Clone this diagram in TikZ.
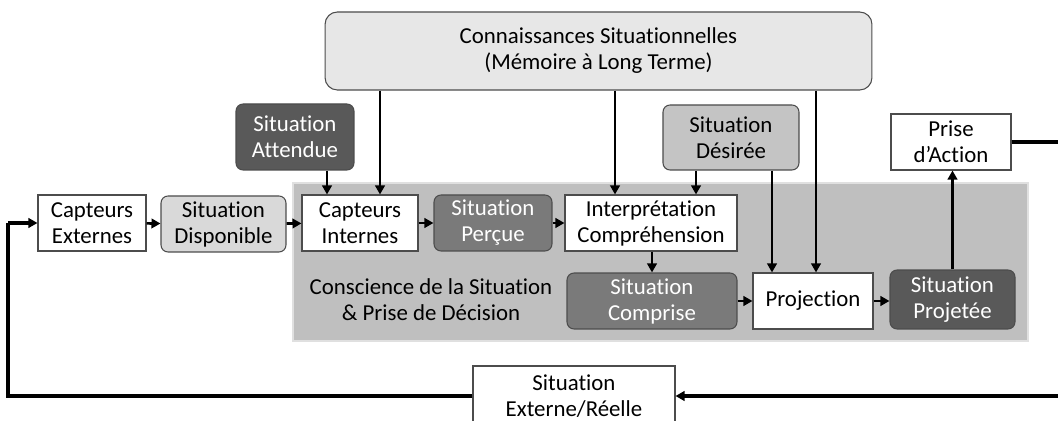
\documentclass[tikz,border=0pt]{standalone}
\usepackage{fontspec}
\setmainfont[RawFeature={-liga;-clig;-calt;-dlig}]{Carlito}
\usetikzlibrary{arrows.meta}
\definecolor{zone}{HTML}{BFBFBF}
\definecolor{tresclair}{HTML}{E7E7E7}
\definecolor{clair}{HTML}{D9D9D9}
\definecolor{mi}{HTML}{C4C4C4}
\definecolor{moyen}{HTML}{7A7A7A}
\definecolor{fonce}{HTML}{595959}

\begin{document}
\begin{tikzpicture}[x=0.02cm,y=-0.02cm,
  box/.style={draw=black!70,line width=0.6pt,align=center,inner sep=0pt,
    minimum height=1.12cm,font=\fontsize{13}{14.8}\selectfont},
  blanc/.style={box,fill=white},
  grisclair/.style={box,fill=clair,rounded corners=4pt},
  grismoyen/.style={box,fill=moyen,text=white,rounded corners=4pt},
  grisfonce/.style={box,fill=fonce,text=white,rounded corners=4pt},
  fl/.style={line width=1.5pt,-{Triangle[length=1.8mm,width=1.9mm]}},
  boucle/.style={line width=1.8pt}]
  \useasboundingbox (0,0) rectangle (1058,421);
  \clip (0,0) rectangle (1058,421);

  \draw[draw=black!12,fill=zone,line width=0.8pt] (293,183) rectangle (1028,341);

  \node[box,fill=tresclair,rounded corners=7pt,minimum width=10.94cm,minimum height=1.56cm] (cs) at (598.5,51)
    {Connaissances Situationnelles\\(Mémoire à Long Terme)};
  \node[grisfonce,minimum width=2.36cm,minimum height=1.32cm] (sa) at (295,137) {Situation\\Attendue};
  \node[grisclair,fill=mi,minimum width=2.72cm,minimum height=1.3cm] (sdes) at (731,137.5) {Situation\\Désirée};
  \node[blanc,minimum width=2.4cm] (pa) at (951,142) {Prise\\d’Action};

  \node[blanc,minimum width=2.16cm] (ce) at (92,223) {Capteurs\\Externes};
  \node[grisclair,minimum width=2.5cm] (sd) at (223.5,224) {Situation\\Disponible};
  \node[blanc,minimum width=2.32cm] (ci) at (360,223) {Capteurs\\Internes};
  \node[grismoyen,minimum width=2.36cm] (sp) at (493,223) {Situation\\Perçue};
  \node[blanc,minimum width=3.44cm] (ic) at (651,223) {Interprétation\\Compréhension};

  \node[align=center,font=\fontsize{13}{14.8}\selectfont] (csd) at (431,300)
    {Conscience de la Situation\\\& Prise de Décision};
  \node[grismoyen,minimum width=3.4cm] (sc) at (652,301) {Situation\\Comprise};
  \node[blanc,minimum width=2.4cm] (pj) at (813,301) {Projection};
  \node[grisfonce,minimum width=2.5cm,minimum height=1.18cm] (spj) at (952.5,299.5) {Situation\\Projetée};

  \node[blanc,minimum width=4.04cm,minimum height=1.2cm] (ser) at (574,396) {Situation\\Externe/Réelle};

  \coordinate (xa) at (327,0);
  \coordinate (xb) at (380,0);
  \coordinate (xc) at (615,0);
  \coordinate (xd) at (696,0);
  \coordinate (xe) at (772,0);
  \coordinate (xf) at (816,0);
  \coordinate (xg) at (1075,0);
  \coordinate (xh) at (8,0);

  \draw[fl] (sa.south -| xa) -- (ci.north -| xa);
  \draw[fl] (cs.south -| xb) -- (ci.north -| xb);
  \draw[fl] (cs.south -| xc) -- (ic.north -| xc);
  \draw[fl] (sdes.south -| xd) -- (ic.north -| xd);
  \draw[fl] (sdes.south -| xe) -- (pj.north -| xe);
  \draw[fl] (cs.south -| xf) -- (pj.north -| xf);

  \draw[fl] (ce) -- (sd);
  \draw[fl] (sd) -- (ci);
  \draw[fl] (ci) -- (sp);
  \draw[fl] (sp) -- (ic);
  \draw[fl] (ic.south -| sc.north) -- (sc.north);
  \draw[fl] (sc) -- (pj);
  \draw[fl] (pj) -- (pj -| spj.west);
  \draw[fl] (spj.north) -- (spj.north |- pa.south);

  \draw[boucle] (pa.east) -- (pa.east -| xg) -- (ser.east -| xg);
  \draw[fl,line width=1.8pt] (ser.east -| xg) -- (ser.east);
  \draw[boucle] (ser.west) -- (ser.west -| xh) -- (ce.west -| xh);
  \draw[fl,line width=1.8pt] (ce.west -| xh) -- (ce.west);
\end{tikzpicture}
\end{document}
